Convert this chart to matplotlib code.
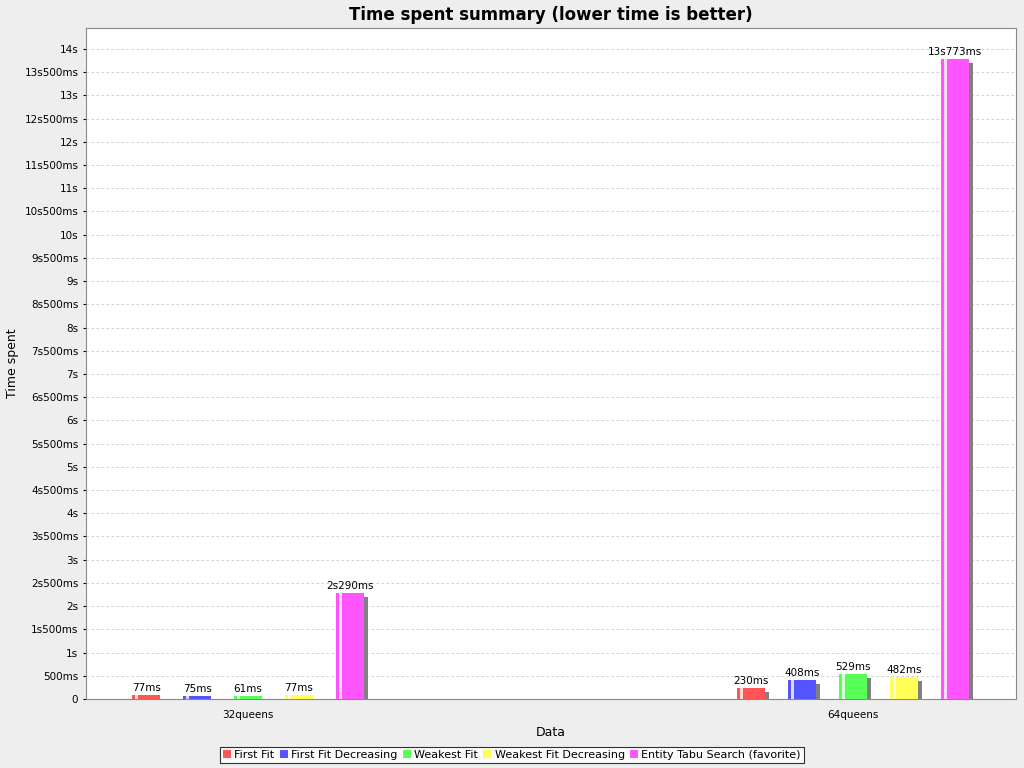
import matplotlib
matplotlib.use("Agg")
import matplotlib.pyplot as plt
from matplotlib.patches import Patch

categories = ["32queens", "64queens"]
series = ["First Fit", "First Fit Decreasing", "Weakest Fit", "Weakest Fit Decreasing", "Entity Tabu Search (favorite)"]
values_ms = {
    "First Fit": [77, 230],
    "First Fit Decreasing": [75, 408],
    "Weakest Fit": [61, 529],
    "Weakest Fit Decreasing": [77, 482],
    "Entity Tabu Search (favorite)": [2290, 13773],
}
labels = {
    "First Fit": ["77ms", "230ms"],
    "First Fit Decreasing": ["75ms", "408ms"],
    "Weakest Fit": ["61ms", "529ms"],
    "Weakest Fit Decreasing": ["77ms", "482ms"],
    "Entity Tabu Search (favorite)": ["2s290ms", "13s773ms"],
}
colors = ["#FF5555", "#5555FF", "#55FF55", "#FFFF55", "#FF55FF"]

def fmt(v):
    s = int(v // 1000); ms = int(v % 1000)
    if v == 0: return "0"
    if s == 0: return f"{ms}ms"
    if ms == 0: return f"{s}s"
    return f"{s}s{ms}ms"

fig = plt.figure(figsize=(10.24, 7.68), dpi=100, facecolor="#EEEEEE")
ax = fig.add_axes([86/1024, 1-699/768, 930/1024, 671/768])
ax.set_facecolor("white")
ymax = 14450
ax.set_ylim(0, ymax)
ax.set_xlim(-0.268, 1.27)
px_x = 1/605
px_y = ymax/671
w = 28*px_x
step = 51*px_x
for i, s in enumerate(series):
    for j, c in enumerate(categories):
        x = j + (i-2)*step
        v = values_ms[s][j]
        ax.bar(x+4*px_x, max(v-4*px_y, 0), w, color="#808080", zorder=2)
        ax.bar(x, v, w, color=colors[i], zorder=3)
        ax.bar(x-w/2+3*px_x, v, 3*px_x, color="white", alpha=0.8, zorder=4, align="edge")
        ax.text(x, v+2*px_y, labels[s][j], ha="center", va="bottom", fontsize=7.5, zorder=5)

ticks = list(range(0, 14001, 500))
ax.set_yticks(ticks)
ax.set_yticklabels([fmt(t) for t in ticks], fontsize=7.5)
ax.set_xticks([0, 1])
ax.set_xticklabels(categories, fontsize=7.5)
ax.tick_params(axis="x", length=0, pad=8)
ax.tick_params(axis="y", length=2)
ax.grid(axis="y", color="#C8C8C8", linestyle=(0, (3, 3)), linewidth=0.6, zorder=0)
for sp in ax.spines.values():
    sp.set_color("#888888"); sp.set_linewidth(0.8)
ax.set_xlabel("Data", fontsize=9)
ax.set_ylabel("Time spent", fontsize=9)
ax.set_title("Time spent summary (lower time is better)", fontsize=12, fontweight="bold", pad=6)
handles = [Patch(facecolor=colors[i], label=s) for i, s in enumerate(series)]
leg = fig.legend(handles=handles, loc="center", bbox_to_anchor=(0.5, 1-755/768), ncol=5,
                 fontsize=8, frameon=True, fancybox=False, edgecolor="black",
                 handlelength=0.7, handleheight=0.7, handletextpad=0.3, columnspacing=0.5,
                 borderpad=0.3)
leg.get_frame().set_linewidth(0.8)
fig.savefig("out.png", dpi=100, facecolor=fig.get_facecolor())
